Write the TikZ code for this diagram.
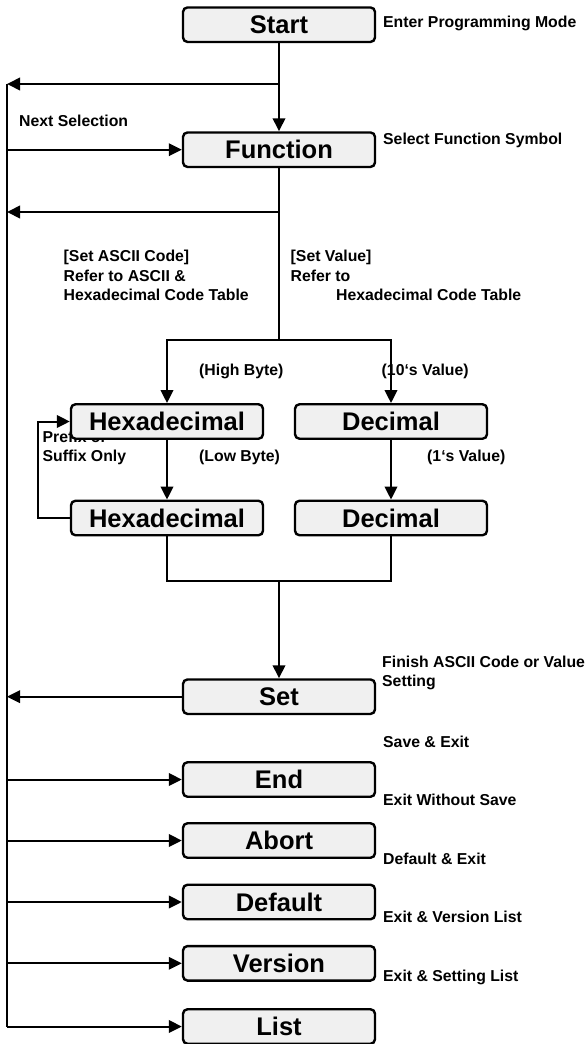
\documentclass[tikz,border=0pt]{standalone}
\usepackage{fontspec}
\setmainfont{Liberation Sans}
\usetikzlibrary{arrows.meta}
\pgfdeclarelayer{back}
\pgfsetlayers{back,main}
\definecolor{boxgray}{HTML}{F0F0F0}
\tikzset{
  stepbox/.style={draw, line width=2.4pt, rounded corners=4.5pt, fill=boxgray,
    minimum width=192pt, minimum height=34.5pt, inner sep=0pt,
    font=\fontsize{25.5}{26}\selectfont\bfseries},
  note/.style={anchor=base west, inner sep=0pt,
    font=\fontsize{15.8}{19}\selectfont\bfseries},
  link/.style={line width=2pt},
  flow/.style={line width=2pt, -{Triangle[length=13pt,width=12.5pt]}},
}
\begin{document}
\begin{tikzpicture}[x=1pt,y=-1pt]
\useasboundingbox (0,0) rectangle (588,1044);

% process boxes
\node[stepbox] (start)   at (279,24.7)   {Start};
\node[stepbox] (func)    at (279,149.7)  {Function};
\node[stepbox] (hexA)    at (167,421.5)  {Hexadecimal};
\node[stepbox] (decA)    at (391,421.5)  {Decimal};
\node[stepbox] (hexB)    at (167,518)    {Hexadecimal};
\node[stepbox] (decB)    at (391,518)    {Decimal};
\node[stepbox] (set)     at (279,696.7)  {Set};
\node[stepbox] (end)     at (279,779.5)  {End};
\node[stepbox] (abort)   at (279,840.5)  {Abort};
\node[stepbox] (default) at (279,902)    {Default};
\node[stepbox] (version) at (279,963.3)  {Version};
\node[stepbox] (list)    at (279,1026.5) {List};

% junction points
\coordinate (rail)  at (7,84);
\coordinate (tapA)  at (279,84);
\coordinate (tapB)  at (279,212);
\coordinate (split) at (279,340);
\coordinate (join)  at (279,581);

% left return rail
\draw[link] (rail) -- (rail |- list.west);

% main flow
\draw[flow] (start) -- (func);
\draw[flow] (tapA) -- (rail);
\draw[link] (func.south) -- (split);
\draw[flow] (tapB) -- (rail |- tapB);
\draw[flow] (split) -| (hexA.north);
\draw[flow] (split) -| (decA.north);
\draw[flow] (hexA) -- (hexB);
\draw[flow] (decA) -- (decB);
\draw[flow] (hexB.west) -- ++(-32,0) |- (hexA.west);
\draw[link] (hexB.south) |- (join) -| (decB.south);
\draw[flow] (join) -- (set);
\draw[flow] (set.west) -- (rail |- set.west);

% entries from the rail
\draw[flow] (rail |- func.west)    -- (func.west);
\draw[flow] (rail |- end.west)     -- (end.west);
\draw[flow] (rail |- abort.west)   -- (abort.west);
\draw[flow] (rail |- default.west) -- (default.west);
\draw[flow] (rail |- version.west) -- (version.west);
\draw[flow] (rail |- list.west)    -- (list.west);

% annotations
\node[note] (nEnter)  at (383,27.5)  {Enter Programming Mode};
\node[note] (nSelect) at (383,144.5) {Select Function Symbol};
\node[note] (nNext)   at (19,126)    {Next Selection};
\node[note] (nAsciiA) at (63.5,261.5) {[Set ASCII Code]};
\node[note] (nAsciiB) at (63.5,281)   {Refer to ASCII \&};
\node[note] (nAsciiC) at (63.5,300)   {Hexadecimal Code Table};
\node[note] (nValA)   at (290.5,261.5) {[Set Value]};
\node[note] (nValB)   at (290.5,281)   {Refer to};
\node[note] (nValC)   at (336,300)     {Hexadecimal Code Table};
\node[note] (nHigh)   at (199,375.5) {(High Byte)};
\node[note] (nTens)   at (381.5,375.5) {(10‘s Value)};
\begin{pgfonlayer}{back}
\node[note] (nPrefix) at (42.5,442) {Prefix or};
\end{pgfonlayer}
\node[note] (nSuffix) at (42.5,461) {Suffix Only};
\node[note] (nLow)    at (199,461)   {(Low Byte)};
\node[note] (nOnes)   at (427,461)   {(1‘s Value)};
\node[note] (nFinA)   at (382,667)   {Finish ASCII Code or Value};
\node[note] (nFinB)   at (382,686.5) {Setting};
\node[note] (nSave)   at (383,747)   {Save \& Exit};
\node[note] (nNoSave) at (383,805)   {Exit Without Save};
\node[note] (nDef)    at (383,864)   {Default \& Exit};
\node[note] (nVer)    at (383,922)   {Exit \& Version List};
\node[note] (nSetL)   at (383,981)   {Exit \& Setting List};
\end{tikzpicture}
\end{document}
